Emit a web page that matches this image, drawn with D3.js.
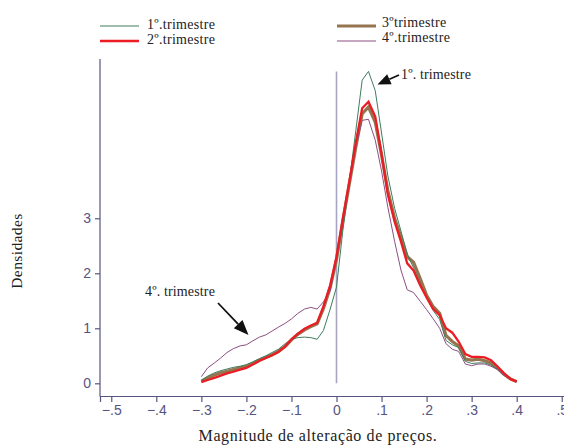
<!DOCTYPE html>
<html><head><meta charset="utf-8">
<script src="https://cdn.jsdelivr.net/npm/d3@7"></script>
<style>
body{margin:0;background:#fff;}
svg{display:block;}
.serif{font-family:"Liberation Serif","DejaVu Serif",serif;fill:#222;}
.tick text{font-family:"Liberation Sans",Arial,sans-serif;font-size:14px;fill:#55557f;}
</style></head>
<body>
<svg id="c" width="564" height="447"></svg>
<script>
// Grid of price-change magnitudes (x)
const xGrid = [-0.300,-0.286,-0.271,-0.257,-0.243,-0.229,-0.214,-0.200,-0.186,-0.171,
  -0.157,-0.143,-0.129,-0.114,-0.100,-0.086,-0.071,-0.057,-0.043,-0.029,
  -0.014,0.000,0.014,0.029,0.043,0.057,0.071,0.086,0.100,0.114,
  0.129,0.143,0.157,0.171,0.186,0.200,0.214,0.229,0.243,0.257,
  0.271,0.286,0.300,0.314,0.329,0.343,0.357,0.371,0.386,0.400];
// Density series
const q1 = [0.05,0.13,0.19,0.23,0.26,0.29,0.31,0.34,0.39,0.45,
  0.50,0.56,0.62,0.72,0.80,0.83,0.84,0.83,0.80,0.96,
  1.35,1.75,2.77,3.70,4.60,5.51,5.67,5.32,4.55,3.77,
  3.18,2.77,2.35,2.10,1.82,1.55,1.33,1.16,0.78,0.70,
  0.65,0.40,0.36,0.37,0.37,0.33,0.26,0.16,0.07,0.03];
const q2 = [0.02,0.06,0.10,0.14,0.18,0.21,0.25,0.28,0.34,0.41,
  0.46,0.51,0.57,0.67,0.80,0.90,0.99,1.05,1.10,1.40,
  1.78,2.30,2.99,3.69,4.38,5.00,5.12,4.85,4.17,3.43,
  2.94,2.58,2.18,2.05,1.78,1.56,1.36,1.24,1.00,0.92,
  0.76,0.53,0.48,0.48,0.47,0.42,0.31,0.19,0.08,0.03];
const q3 = [0.04,0.10,0.15,0.19,0.22,0.25,0.28,0.31,0.36,0.42,
  0.47,0.52,0.58,0.67,0.79,0.89,0.97,1.03,1.08,1.36,
  1.74,2.25,2.95,3.65,4.30,4.90,5.02,4.75,4.15,3.50,
  3.00,2.66,2.30,2.20,1.90,1.60,1.40,1.27,0.87,0.76,
  0.68,0.44,0.42,0.44,0.41,0.37,0.28,0.17,0.08,0.03];
const q4 = [0.12,0.28,0.37,0.46,0.56,0.63,0.68,0.70,0.77,0.84,
  0.88,0.95,1.02,1.09,1.17,1.27,1.35,1.38,1.35,1.48,
  1.68,2.25,2.95,3.65,4.30,4.78,4.80,4.42,3.86,3.20,
  2.58,2.06,1.70,1.65,1.49,1.34,1.18,1.00,0.72,0.62,
  0.58,0.35,0.32,0.35,0.35,0.31,0.25,0.15,0.07,0.03];
const xTicks = [-0.5,-0.4,-0.3,-0.2,-0.1,0,0.1,0.2,0.3,0.4,0.5];
const yTicks = [0,1,2,3];
const seriesNames = ["1º.trimestre","2º.trimestre","3ºtrimestre","4º.trimestre"];

const svg = d3.select("#c");
const axisColor = "#55557f";

const x = d3.scaleLinear().domain([-0.525,0.525]).range([100,573]);
const y = d3.scaleLinear().domain([-0.22,5.85]).range([395.4,61.5]);

// Axes
const fmt = d => d===0 ? "0" : d3.format(".1f")(d).replace("0.",".");
const gx = svg.append("g").attr("transform","translate(0,396)")
  .call(d3.axisBottom(x).tickValues(xTicks).tickFormat(fmt).tickSizeOuter(0).tickSize(6).tickPadding(3));
const gy = svg.append("g").attr("transform","translate(100,0)")
  .call(d3.axisLeft(y).tickValues(yTicks).tickFormat(d3.format("d")).tickSizeOuter(0).tickSize(5).tickPadding(4));
[gx,gy].forEach(g=>{g.selectAll("path,line").attr("stroke",axisColor).attr("stroke-width",1.2);});
gy.select(".domain").attr("d","M0,59V396.5");

// zero reference line
const maxD = d3.max(q1);
svg.append("line").attr("x1",x(0)).attr("x2",x(0)).attr("y1",y(maxD)).attr("y2",y(0))
  .attr("stroke","#a6a6c4").attr("stroke-width",1.6);

const series = [
  {name:seriesNames[2], v:q3, c:"#95754f", w:3.2},
  {name:seriesNames[0], v:q1, c:"#3f7d5e", w:1},
  {name:seriesNames[3], v:q4, c:"#8d4f82", w:1},
  {name:seriesNames[1], v:q2, c:"#ec1c24", w:2.3}
];
const line = d3.line().x((d,i)=>x(xGrid[i])).y(d=>y(d));
series.forEach(s=>{
  svg.append("path").datum(s.v).attr("d",line).attr("fill","none")
    .attr("stroke",s.c).attr("stroke-width",s.w).attr("stroke-linejoin","miter");
});

// Legend
const leg = [
  {s:series[1], lx:100, ly:26, tx:147, ty:29},
  {s:series[3], lx:100, ly:41, tx:147, ty:44},
  {s:series[0], lx:337, ly:26, tx:382, ty:27},
  {s:series[2], lx:337, ly:41, tx:382, ty:42}
];
leg.forEach(l=>{
  svg.append("line").attr("x1",l.lx).attr("x2",l.lx+39).attr("y1",l.ly).attr("y2",l.ly)
    .attr("stroke",l.s.c).attr("stroke-width",l.s.w);
  svg.append("text").attr("class","serif").attr("x",l.tx).attr("y",l.ty)
    .attr("font-size",14).attr("letter-spacing",0.3).text(l.s.name);
});

// Axis titles
svg.append("text").attr("class","serif").attr("font-size",15.5).attr("letter-spacing",0.4)
  .attr("transform","translate(22,251) rotate(-90)").attr("text-anchor","middle").text("Densidades");
svg.append("text").attr("class","serif").attr("font-size",16).attr("letter-spacing",0.6)
  .attr("x",318).attr("y",441).attr("text-anchor","middle").text("Magnitude de alteração de preços.");

// Annotations with arrows
function arrow(x1,y1,x2,y2,hl,hw){
  const a = Math.atan2(y2-y1,x2-x1);
  const bx = x2 - hl*Math.cos(a), by = y2 - hl*Math.sin(a);
  svg.append("line").attr("x1",x1).attr("y1",y1).attr("x2",bx).attr("y2",by)
    .attr("stroke","#111").attr("stroke-width",1.8);
  const px = -Math.sin(a)*hw/2, py = Math.cos(a)*hw/2;
  svg.append("path").attr("d",`M${x2},${y2}L${bx+px},${by+py}L${bx-px},${by-py}Z`).attr("fill","#111");
}
svg.append("text").attr("class","serif").attr("font-size",14).attr("letter-spacing",0.15).attr("x",401).attr("y",79).text("1º. trimestre");
arrow(399,75,377.5,84.5,13,11);
svg.append("text").attr("class","serif").attr("font-size",14).attr("letter-spacing",0.15).attr("x",145).attr("y",296).text("4º. trimestre");
arrow(218,303,248.5,335,15,12);
</script>
</body></html>
